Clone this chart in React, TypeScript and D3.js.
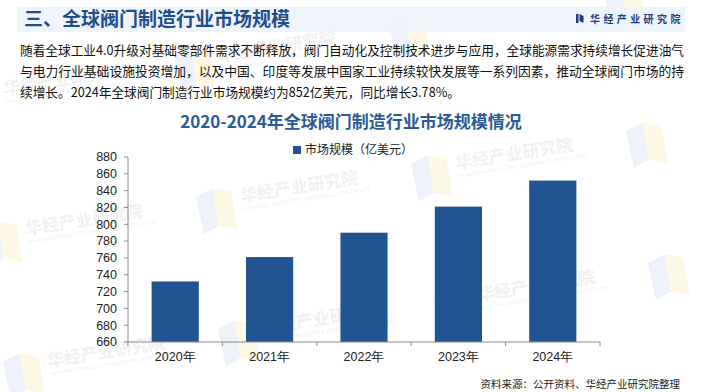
import React from 'react';
import * as d3 from 'd3';

// chart data
const years = ['2020年', '2021年', '2022年', '2023年', '2024年'];
const marketSize = [732, 761, 790, 821, 852];
const yTicks = [660, 680, 700, 720, 740, 760, 780, 800, 820, 840, 860, 880];
const seriesName = '市场规模（亿美元）';

const headerTitle = '三、全球阀门制造行业市场规模';
const brand = '华经产业研究院';
const chartTitle = '2020-2024年全球阀门制造行业市场规模情况';
const paragraph = [
  '随着全球工业4.0升级对基础零部件需求不断释放，阀门自动化及控制技术进步与应用，全球能源需求持续增长促进油气',
  '与电力行业基础设施投资增加，以及中国、印度等发展中国家工业持续较快发展等一系列因素，推动全球阀门市场的持',
  '续增长。2024年全球阀门制造行业市场规模约为852亿美元，同比增长3.78%。',
];
const source = '资料来源：公开资料、华经产业研究院整理';

const W = 705;
const H = 392;
const margin = { top: 157, right: 105, bottom: 50, left: 128 };
const CJK = '"Noto Sans CJK SC", "Noto Sans", sans-serif';
const NUM = '"Liberation Sans", Arial, sans-serif';
const BAR = '#215592';
const AXIS = '#8c8c8c';

// faint brand watermark; text only where it fits inside the page
function Watermark({ x, y, withText }: { x: number; y: number; withText: boolean }) {
  return (
    <g transform={`translate(${x},${y}) rotate(-9)`}>
      <path d="M0,6 L18,0 L18,38 L2,44 Z" fill="#edf2fa" />
      <path d="M18,0 L36,6 L36,44 L18,38 Z" fill="#fdf8e4" />
      {withText && (
        <>
          <text x={44} y={18} fontFamily={CJK} fontWeight={700} fontSize={17} fill="#f0f0f0">
            {brand}
          </text>
          <text x={45} y={27} fontFamily={NUM} fontSize={5.5} fill="#efefef" letterSpacing={0.4}>
            HUAJING INDUSTRY RESEARCH INSTITUTE
          </text>
        </>
      )}
    </g>
  );
}

export default function App() {
  const innerW = W - margin.left - margin.right;
  const innerH = H - margin.top - margin.bottom;

  const x = d3.scaleBand().domain(years).range([0, innerW]).paddingInner(0.5).paddingOuter(0.25);
  const y = d3.scaleLinear().domain([660, 880]).range([innerH, 0]);
  const step = x.step();

  const marks: [number, number][] = [];
  const rowStarts: [number, number][] = [[-42, 84], [-20, 224], [2, 356]];
  rowStarts.forEach(([sx, sy]) => {
    for (let i = 0; i < 4; i++) marks.push([sx + i * 215, sy - i * 33]);
  });
  const fits = (mx: number, my: number) => mx + 44 >= 0 && mx + 170 <= W && my > 30;

  return (
    <svg width={W} height={H} style={{ display: 'block', position: 'absolute', left: 0, top: 0 }}>
      <rect width={W} height={H} fill="#fff" />
      {marks.map(([mx, my], i) => (
        <Watermark key={i} x={mx} y={my} withText={fits(mx, my)} />
      ))}

      {/* header band */}
      <rect x={17} y={7} width={668} height={25} fill="#eef3fb" opacity={0.92} />
      <text x={24} y={26} fontFamily={CJK} fontWeight={700} fontSize={19} fill="#1f4e8c">
        {headerTitle}
      </text>
      <rect x={576} y={14} width={2.5} height={9} fill="#1f3f78" />
      <path d="M579.5,14 L583.5,16 L583.5,23 L579.5,21 Z" fill="#1f3f78" />
      <text x={590} y={22.5} fontFamily={CJK} fontWeight={700} fontSize={10} fill="#1f3f78" letterSpacing={3.4}>
        {brand}
      </text>

      {/* paragraph */}
      {paragraph.map((line, i) => (
        <text
          key={i}
          x={20}
          y={55 + i * 21}
          fontFamily={CJK}
          fontSize={13}
          fill="#111"
          textLength={i < 2 ? 664 : 440}
          lengthAdjust="spacingAndGlyphs"
        >
          {line}
        </text>
      ))}

      {/* chart title + legend */}
      <text x={351} y={128} textAnchor="middle" fontFamily={CJK} fontWeight={700} fontSize={17} fill="#2a5a98">
        {chartTitle}
      </text>
      <rect x={293} y={146} width={8} height={8} fill={BAR} />
      <text x={305} y={154} fontFamily={CJK} fontSize={12} fill="#222">
        {seriesName}
      </text>

      <g transform={`translate(${margin.left},${margin.top})`}>
        {marketSize.map((v, i) => (
          <rect
            key={years[i]}
            x={x(years[i])}
            y={y(v)}
            width={x.bandwidth()}
            height={innerH - y(v)}
            fill={BAR}
          />
        ))}

        {/* y axis */}
        <line x1={0} x2={0} y1={0} y2={innerH} stroke={AXIS} />
        {yTicks.map((t) => (
          <g key={t} transform={`translate(0,${y(t)})`}>
            <line x1={-4} x2={0} stroke={AXIS} />
            <text x={-11} dy="0.35em" textAnchor="end" fontFamily={NUM} fontSize={12.5} fill="#222">
              {t}
            </text>
          </g>
        ))}

        {/* x axis */}
        <line x1={0} x2={innerW} y1={innerH} y2={innerH} stroke={AXIS} />
        {d3.range(years.length + 1).map((i) => (
          <line key={i} x1={i * step} x2={i * step} y1={innerH} y2={innerH + 4} stroke={AXIS} />
        ))}
        {years.map((yr) => (
          <text
            key={yr}
            x={(x(yr) as number) + x.bandwidth() / 2}
            y={innerH + 19}
            textAnchor="middle"
            fontFamily={NUM}
            fontSize={12.5}
            fill="#222"
          >
            {yr}
          </text>
        ))}
      </g>

      <text x={680} y={388} textAnchor="end" fontFamily={CJK} fontSize={10.5} fill="#222">
        {source}
      </text>
    </svg>
  );
}
